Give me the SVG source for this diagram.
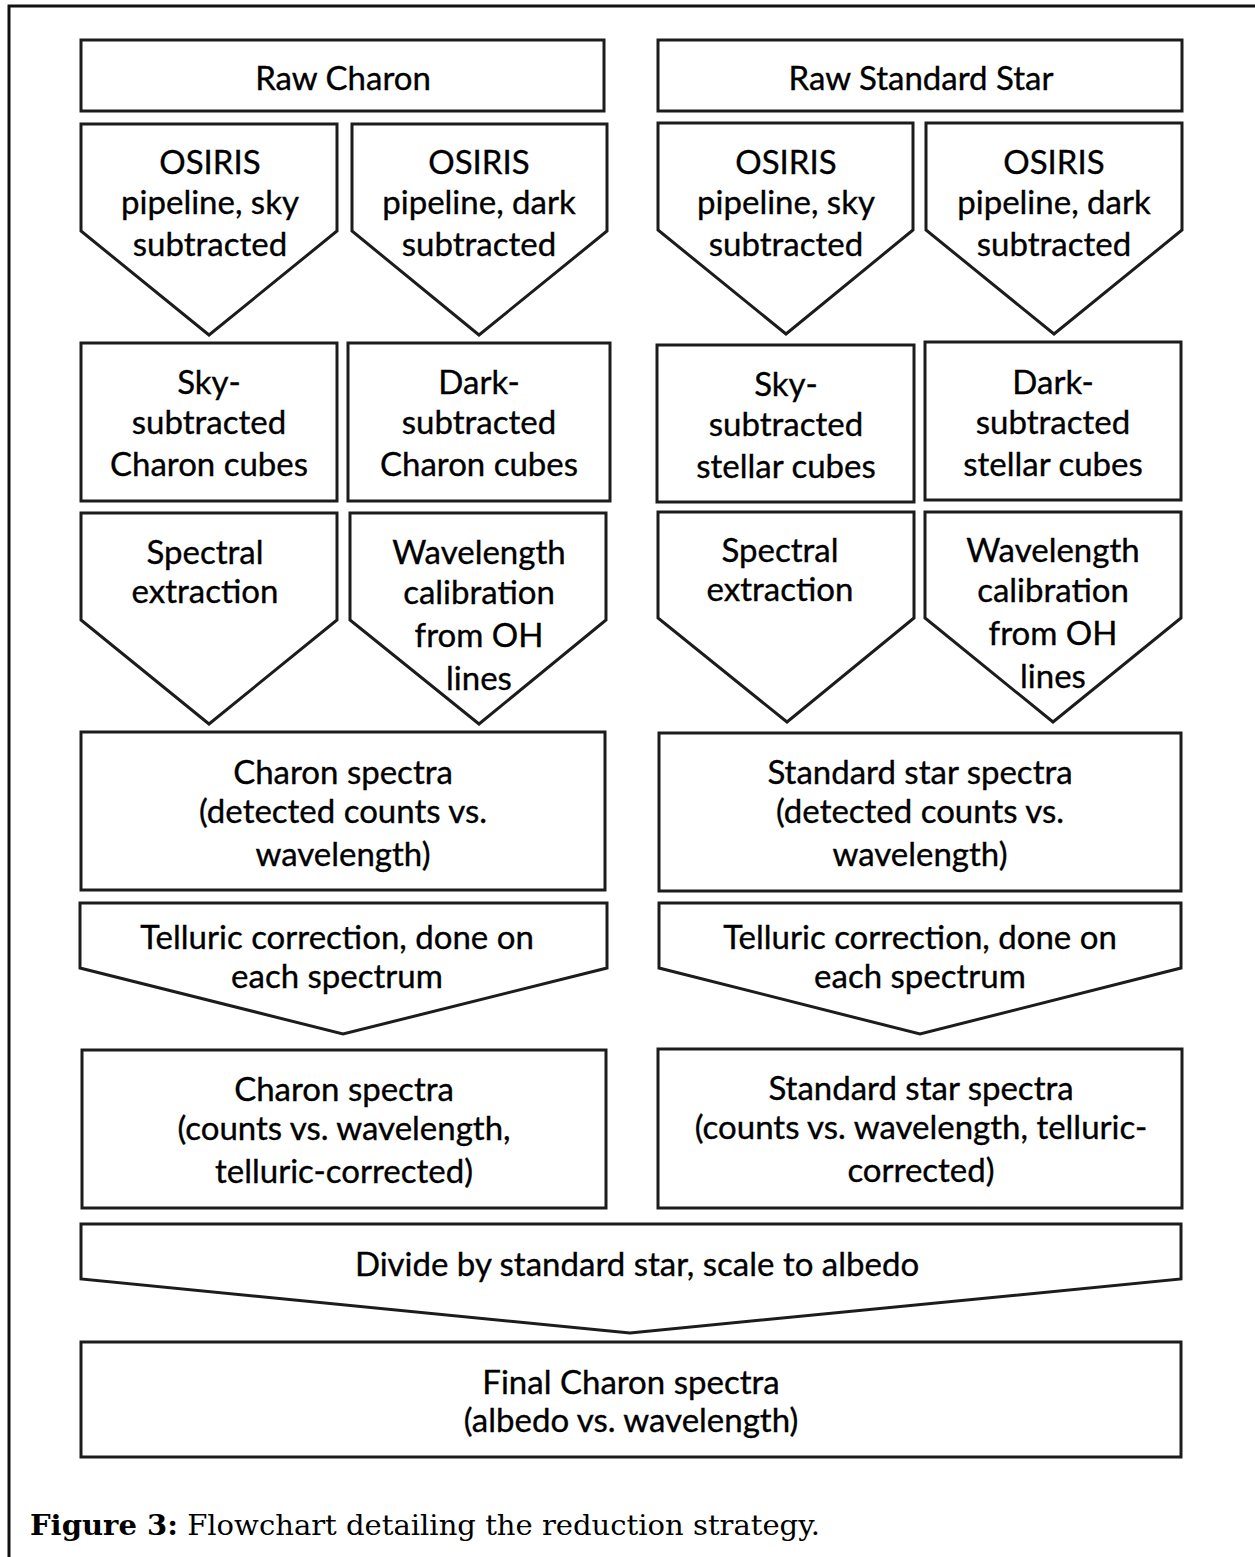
<svg xmlns="http://www.w3.org/2000/svg" width="1255" height="1557" viewBox="0 0 1255 1557">
<style>
.s{fill:#fff;stroke:#1c1c1c;stroke-width:3;stroke-linejoin:miter}
.t{font-family:Lato,"Open Sans","Liberation Sans",sans-serif;font-size:33px;fill:#000;stroke:#000;stroke-width:0.35;text-anchor:middle}
.cap{font-family:"DejaVu Serif","Liberation Serif",serif;font-size:28px;fill:#000}
</style>
<rect width="1255" height="1557" fill="#fff"/>
<path d="M9 1557 V6 H1255" fill="none" stroke="#111" stroke-width="3"/>
<g id="connectors"></g>
<g id="raw-charon"><rect class="s" x="81" y="40" width="523" height="71"/><text class="t" x="343" y="90">Raw Charon</text></g>
<g id="raw-star"><rect class="s" x="658" y="40" width="524" height="71"/><text class="t" x="921" y="90">Raw Standard Star</text></g>
<g id="osiris-sky-c"><path class="s" d="M81 124 H337 V231 L209 335 L81 231 Z"/><text class="t" x="210" y="174">OSIRIS</text><text class="t" x="210" y="214">pipeline, sky</text><text class="t" x="210" y="256">subtracted</text></g>
<g id="osiris-dark-c"><path class="s" d="M352 124 H607 V231 L479 335 L352 231 Z"/><text class="t" x="479" y="174">OSIRIS</text><text class="t" x="479" y="214">pipeline, dark</text><text class="t" x="479" y="256">subtracted</text></g>
<g id="osiris-sky-s"><path class="s" d="M658 123 H913 V230 L786 334 L658 230 Z"/><text class="t" x="786" y="174">OSIRIS</text><text class="t" x="786" y="214">pipeline, sky</text><text class="t" x="786" y="256">subtracted</text></g>
<g id="osiris-dark-s"><path class="s" d="M926 123 H1182 V230 L1054 334 L926 230 Z"/><text class="t" x="1054" y="174">OSIRIS</text><text class="t" x="1054" y="214">pipeline, dark</text><text class="t" x="1054" y="256">subtracted</text></g>
<g id="sky-cubes-c"><rect class="s" x="81" y="343" width="256" height="158"/><text class="t" x="209" y="394">Sky-</text><text class="t" x="209" y="434">subtracted</text><text class="t" x="209" y="476">Charon cubes</text></g>
<g id="dark-cubes-c"><rect class="s" x="348" y="343" width="262" height="158"/><text class="t" x="479" y="394">Dark-</text><text class="t" x="479" y="434">subtracted</text><text class="t" x="479" y="476">Charon cubes</text></g>
<g id="sky-cubes-s"><rect class="s" x="657" y="345" width="257" height="157"/><text class="t" x="786" y="396">Sky-</text><text class="t" x="786" y="436">subtracted</text><text class="t" x="786" y="478">stellar cubes</text></g>
<g id="dark-cubes-s"><rect class="s" x="925" y="342" width="256" height="158"/><text class="t" x="1053" y="394">Dark-</text><text class="t" x="1053" y="434">subtracted</text><text class="t" x="1053" y="476">stellar cubes</text></g>
<g id="extract-c"><path class="s" d="M81 513 H337 V620 L209 724 L81 620 Z"/><text class="t" x="205" y="564">Spectral</text><text class="t" x="205" y="603">extraction</text></g>
<g id="wave-c"><path class="s" d="M350 513 H606 V620 L479 724 L350 620 Z"/><text class="t" x="479" y="564">Wavelength</text><text class="t" x="479" y="604">calibration</text><text class="t" x="479" y="647">from OH</text><text class="t" x="479" y="690">lines</text></g>
<g id="extract-s"><path class="s" d="M658 512 H914 V618 L787 722 L658 618 Z"/><text class="t" x="780" y="562">Spectral</text><text class="t" x="780" y="601">extraction</text></g>
<g id="wave-s"><path class="s" d="M925 512 H1181 V618 L1053 722 L925 618 Z"/><text class="t" x="1053" y="562">Wavelength</text><text class="t" x="1053" y="602">calibration</text><text class="t" x="1053" y="645">from OH</text><text class="t" x="1053" y="688">lines</text></g>
<g id="spectra-c"><rect class="s" x="81" y="732" width="524" height="158"/><text class="t" x="343" y="784">Charon spectra</text><text class="t" x="343" y="823">(detected counts vs.</text><text class="t" x="343" y="866">wavelength)</text></g>
<g id="spectra-s"><rect class="s" x="659" y="733" width="522" height="158"/><text class="t" x="920" y="784">Standard star spectra</text><text class="t" x="920" y="823">(detected counts vs.</text><text class="t" x="920" y="866">wavelength)</text></g>
<g id="telluric-c"><path class="s" d="M80 903 H607 V968 L343 1034 L80 968 Z"/><text class="t" x="337" y="949">Telluric correction, done on</text><text class="t" x="337" y="988">each spectrum</text></g>
<g id="telluric-s"><path class="s" d="M659 903 H1181 V968 L920 1034 L659 968 Z"/><text class="t" x="920" y="949">Telluric correction, done on</text><text class="t" x="920" y="988">each spectrum</text></g>
<g id="corr-c"><rect class="s" x="82" y="1050" width="524" height="158"/><text class="t" x="344" y="1101">Charon spectra</text><text class="t" x="344" y="1140">(counts vs. wavelength,</text><text class="t" x="344" y="1183">telluric-corrected)</text></g>
<g id="corr-s"><rect class="s" x="658" y="1049" width="524" height="159"/><text class="t" x="921" y="1100">Standard star spectra</text><text class="t" x="921" y="1139">(counts vs. wavelength, telluric-</text><text class="t" x="921" y="1182">corrected)</text></g>
<g id="divide"><path class="s" d="M81 1224 H1181 V1279 L630 1333 L81 1279 Z"/><text class="t" x="637" y="1276">Divide by standard star, scale to albedo</text></g>
<g id="final"><rect class="s" x="81" y="1342" width="1100" height="115"/><text class="t" x="631" y="1394">Final Charon spectra</text><text class="t" x="631" y="1432">(albedo vs. wavelength)</text></g>
<text class="cap" x="30" y="1535" textLength="790" lengthAdjust="spacingAndGlyphs"><tspan font-weight="bold">Figure 3:</tspan> Flowchart detailing the reduction strategy.</text>
</svg>
